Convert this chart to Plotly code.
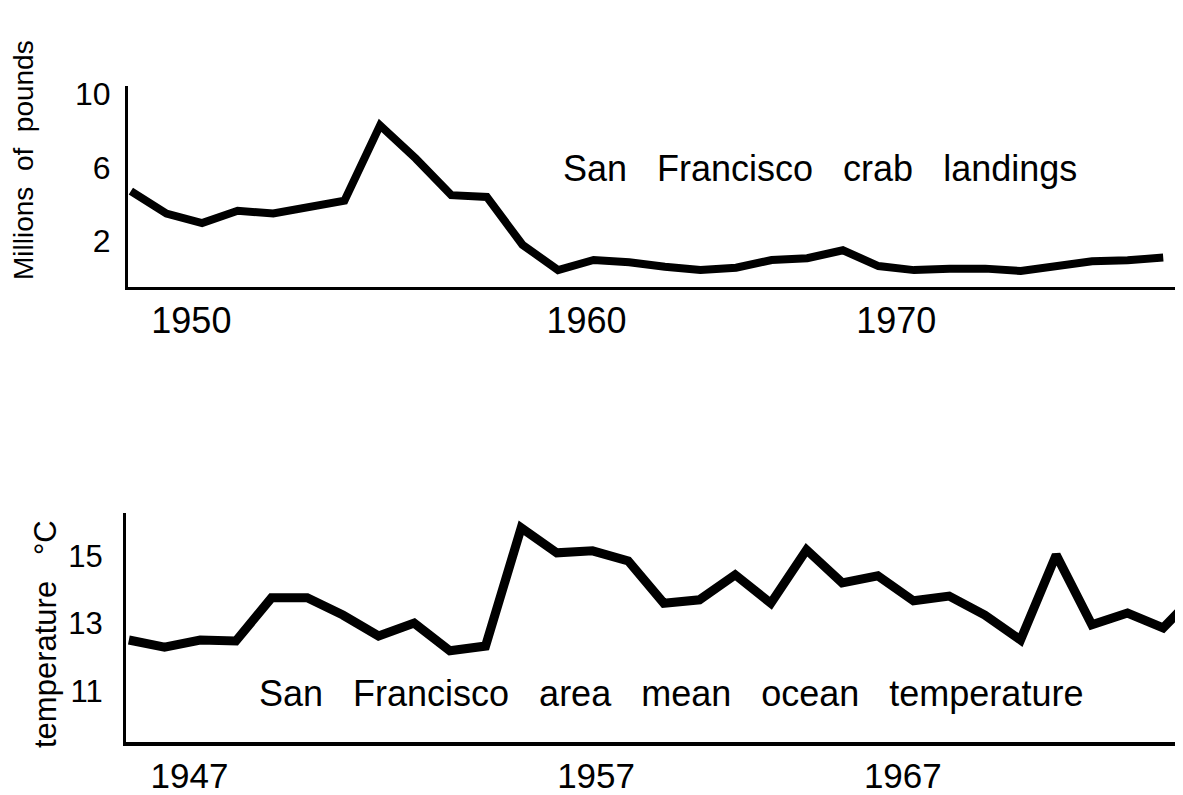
import plotly.graph_objects as go

# ---- data ----
crab_years = list(range(1948, 1978))
crab_millions_lb = [4.72, 3.5, 2.98, 3.65, 3.5, 3.8, 4.2, 8.3, 6.5, 4.5,
                    4.4, 1.8, 0.42, 0.97, 0.85, 0.6, 0.42, 0.55, 0.97, 1.07,
                    1.5, 0.64, 0.42, 0.5, 0.5, 0.37, 0.64, 0.9, 0.95, 1.1]

temp_years = list(range(1945, 1976))
temp_celsius = [12.51, 12.30, 12.51, 12.48, 13.76, 13.76, 13.25, 12.63, 13.01, 12.19,
                12.33, 15.83, 15.09, 15.15, 14.85, 13.6, 13.7, 14.44, 13.6, 15.18,
                14.2, 14.41, 13.67, 13.81, 13.25, 12.51, 15.03, 12.96, 13.31, 12.87,
                13.95]

crab_tick_pos = [1949.7, 1960.8, 1969.5]
crab_tick_text = ["1950", "1960", "1970"]
temp_tick_pos = [1946.7, 1958.1, 1966.7]
temp_tick_text = ["1947", "1957", "1967"]
crab_y_ticks = [2, 6, 10]
temp_y_ticks = [11, 13, 15]

W, H = 1183, 795
FONT = "Liberation Sans, Arial, sans-serif"
NB = "\u00a0"

def py(p):
    return 1 - p / H

def px(p):
    return p / W

fig = go.Figure()
fig.add_trace(go.Scatter(x=crab_years, y=crab_millions_lb, mode="lines",
                         line=dict(color="black", width=8), xaxis="x", yaxis="y",
                         showlegend=False, hoverinfo="skip"))
fig.add_trace(go.Scatter(x=temp_years, y=temp_celsius, mode="lines",
                         line=dict(color="black", width=9), xaxis="x2", yaxis="y2",
                         showlegend=False, hoverinfo="skip"))

axis_common = dict(showgrid=False, zeroline=False, showline=True, linecolor="black",
                   ticks="", automargin=False)

fig.update_layout(
    width=W, height=H,
    margin=dict(l=0, r=0, t=0, b=0),
    paper_bgcolor="white", plot_bgcolor="white",
    font=dict(family=FONT, color="black"),
    xaxis=dict(**axis_common, domain=[px(120), 1], anchor="y",
               range=[1947.92, 1977.78], linewidth=3,
               tickvals=crab_tick_pos, ticktext=crab_tick_text,
               tickfont=dict(size=36), ticklabelstandoff=0),
    yaxis=dict(**axis_common, domain=[py(279), py(78)], anchor="x",
               range=[-0.5, 10.44], linewidth=3,
               tickvals=crab_y_ticks, tickfont=dict(size=32), ticklabelstandoff=8),
    xaxis2=dict(**axis_common, domain=[px(118), 1], anchor="y2",
                range=[1944.92, 1974.78], linewidth=4,
                tickvals=temp_tick_pos, ticktext=temp_tick_text,
                tickfont=dict(size=35), ticklabelstandoff=0),
    yaxis2=dict(**axis_common, domain=[py(734), py(505)], anchor="x2",
                range=[9.49, 16.27], linewidth=3,
                tickvals=temp_y_ticks, tickfont=dict(size=31), ticklabelstandoff=14),
)

sp3 = NB * 3
fig.add_annotation(text=sp3.join(["San", "Francisco", "crab", "landings"]),
                   xref="paper", yref="paper", x=px(812), y=py(161),
                   showarrow=False, font=dict(size=36), xanchor="center", yanchor="middle")
fig.add_annotation(text=sp3.join(["San", "Francisco", "area", "mean", "ocean", "temperature"]),
                   xref="paper", yref="paper", x=px(663), y=py(685),
                   showarrow=False, font=dict(size=36), xanchor="center", yanchor="middle")
fig.add_annotation(text=(NB * 2).join(["Millions", "of", "pounds"]),
                   xref="paper", yref="paper", x=px(16), y=py(152), textangle=-90,
                   showarrow=False, font=dict(size=28), xanchor="center", yanchor="middle")
fig.add_annotation(text="temperature" + NB * 3 + "°C",
                   xref="paper", yref="paper", x=px(37), y=py(626), textangle=-90,
                   showarrow=False, font=dict(size=31), xanchor="center", yanchor="middle")

fig.write_html("out.html")
